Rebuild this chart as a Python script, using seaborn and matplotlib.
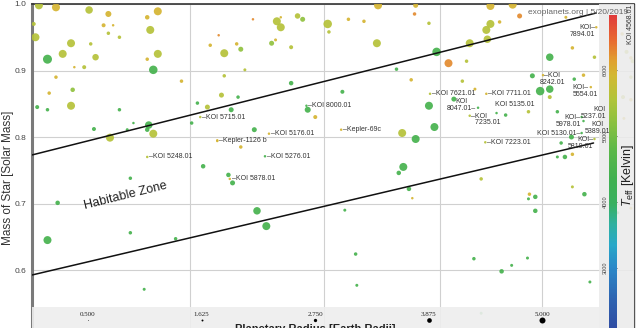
import numpy as np
import pandas as pd
import matplotlib
matplotlib.use("Agg")
import matplotlib.pyplot as plt
import seaborn as sns
from matplotlib.colors import LinearSegmentedColormap, Normalize
from matplotlib.patches import Rectangle
from matplotlib.ticker import NullLocator, FixedLocator
import matplotlib.cm as cm

# ------------------------------------------------------------------ data
# colour classes of the host star (effective temperature, K)
TEFF = {"O": 6250, "Y": 5950, "YG": 5600, "LG": 5250, "G": 4450}

# unlabeled planets: x (log axis quantity), stellar mass, planet radius, colour class
pl_x = [5.04, 5.14, 5.34, 5.46, 5.71, 5.78, 5.01, 5.43, 5.49, 5.02, 5.46, 5.53, 5.73, 5.23,
        5.35, 5.18, 5.38, 5.71, 5.78, 5.09, 5.25, 5.31, 5.75, 5.14, 5.94, 5.10, 5.24, 5.03,
        5.09, 5.23, 5.53, 6.05, 6.12, 5.37, 5.62, 5.58, 5.72, 5.71, 5.75, 5.47, 6.01, 6.19,
        6.09,
        6.45, 6.63, 6.66, 6.66, 6.79, 6.83, 7.03, 7.04, 7.20, 7.33, 7.45, 7.78, 7.77, 6.20,
        6.14, 6.33, 6.36, 6.24, 6.59, 6.62, 6.74, 7.44, 7.61, 7.74, 6.24, 6.39, 6.74, 7.15,
        6.22, 6.34, 6.29, 6.87, 6.93, 7.66, 7.78, 6.46, 6.36, 7.67,
        8.48, 8.70, 7.90, 8.57, 8.48, 8.44, 8.77, 9.25, 8.28, 8.45, 8.25, 8.08, 7.97, 9.08,
        9.32, 9.56, 8.21, 8.90, 9.08, 9.34, 9.44, 8.33, 8.98, 9.08, 8.13, 7.90, 8.63, 8.86,
        9.16, 7.95, 9.31, 9.20, 9.16, 9.24, 9.32,
        6.27, 6.30, 6.48, 6.55, 7.63, 7.72, 7.75, 7.17, 7.26, 7.27, 5.60, 5.15, 5.09, 5.60,
        5.90, 5.69, 8.39, 8.87, 8.93, 8.86, 8.93, 9.32, 9.45, 8.32, 8.59, 8.69, 8.85, 9.51,
        8.39,
        9.87, 9.92, 9.97, 9.99, 9.97, 9.88, 9.97, 9.89, 9.82, 9.97]
pl_mass = [0.998, 0.995, 0.991, 0.985, 0.980, 0.989, 0.970, 0.968, 0.968, 0.950, 0.956, 0.950,
           0.961, 0.941, 0.940, 0.925, 0.920, 0.917, 0.925, 0.917, 0.905, 0.905, 0.901, 0.890,
           0.884, 0.866, 0.871, 0.845, 0.841, 0.847, 0.841, 0.851, 0.845, 0.812, 0.821, 0.811,
           0.818, 0.811, 0.805, 0.799, 0.821, 0.795, 0.756,
           0.977, 0.974, 0.965, 0.980, 0.982, 0.977, 0.970, 0.958, 0.977, 0.974, 0.998, 0.998,
           0.985, 0.953, 0.938, 0.940, 0.932, 0.926, 0.941, 0.946, 0.935, 0.941, 0.902, 0.886,
           0.892, 0.901, 0.881, 0.868, 0.863, 0.860, 0.841, 0.841, 0.830, 0.806, 0.797, 0.811,
           0.785, 0.755,
           0.997, 0.999, 0.971, 0.973, 0.970, 0.961, 0.982, 0.980, 0.941, 0.947, 0.914, 0.911,
           0.928, 0.920, 0.934, 0.920, 0.884, 0.892, 0.872, 0.887, 0.893, 0.872, 0.869, 0.860,
           0.857, 0.847, 0.833, 0.838, 0.838, 0.815, 0.800, 0.791, 0.770, 0.770, 0.774,
           0.743, 0.731, 0.689, 0.666, 0.746, 0.722, 0.708, 0.690, 0.624, 0.577, 0.738, 0.701,
           0.645, 0.656, 0.647, 0.571, 0.737, 0.714, 0.710, 0.707, 0.689, 0.725, 0.714, 0.617,
           0.598, 0.607, 0.618, 0.582, 0.535,
           0.955, 0.928, 0.919, 0.914, 0.890, 0.860, 0.856, 0.828, 0.686, 0.693]
pl_radius = [4.0, 4.0, 3.75, 3.0, 2.25, 4.0, 2.0, 2.0, 1.25, 4.0, 1.75, 1.75, 4.0, 4.0,
             1.75, 4.0, 3.25, 1.75, 4.0, 4.5, 1.25, 2.0, 4.25, 1.75, 1.75, 1.75, 2.25, 2.0,
             1.75, 4.0, 1.75, 1.75, 2.5, 2.0, 1.25, 1.5, 3.75, 2.25, 4.0, 4.0, 1.75, 1.25,
             2.25,
             1.25, 4.0, 4.0, 1.25, 2.75, 2.5, 4.25, 1.75, 1.75, 1.75, 4.0, 2.5, 1.75, 1.25,
             1.75, 1.75, 2.5, 4.0, 2.5, 1.5, 2.0, 4.0, 1.75, 1.75, 1.75, 1.5, 2.25, 2.0,
             2.5, 1.75, 2.5, 3.0, 2.0, 4.0, 4.0, 2.5, 1.75, 4.0,
             4.0, 4.0, 1.75, 1.75, 4.0, 4.0, 2.5, 1.5, 4.0, 3.75, 1.75, 4.0, 4.25, 3.75,
             1.75, 1.75, 1.75, 2.5, 3.75, 1.75, 1.75, 1.5, 4.25, 2.0, 2.5, 4.0, 1.75, 1.75,
             1.75, 4.0, 2.5, 1.75, 1.5, 2.25, 1.75,
             2.25, 2.5, 3.75, 4.0, 2.25, 2.25, 1.25, 1.5, 1.75, 1.5, 1.75, 2.25, 4.0, 1.75,
             1.75, 1.5, 1.75, 1.75, 2.25, 1.5, 2.25, 1.5, 2.25, 1.75, 2.25, 1.5, 1.5, 1.5,
             1.5,
             1.75, 2.0, 1.75, 2.0, 1.75, 2.0, 1.75, 1.5, 1.5, 1.5]
pl_class = ["YG", "Y", "YG", "Y", "Y", "Y", "YG", "Y", "Y", "YG", "YG", "YG", "YG", "YG",
            "YG", "YG", "YG", "Y", "YG", "G", "Y", "YG", "G", "Y", "Y", "Y", "LG", "G",
            "G", "YG", "G", "G", "YG", "G", "G", "G", "G", "G", "YG", "YG", "G", "Y",
            "G",
            "O", "YG", "YG", "Y", "YG", "LG", "YG", "YG", "Y", "Y", "Y", "Y", "O", "O",
            "Y", "Y", "LG", "YG", "LG", "Y", "YG", "YG", "G", "Y", "YG", "YG", "G", "G",
            "YG", "G", "G", "G", "Y", "YG", "G", "G", "Y", "G",
            "Y", "Y", "YG", "Y", "YG", "YG", "O", "Y", "YG", "YG", "YG", "O", "G", "G",
            "Y", "YG", "YG", "G", "G", "G", "Y", "Y", "G", "YG", "G", "G", "G", "YG",
            "G", "G", "G", "G", "G", "G", "Y",
            "G", "G", "G", "G", "G", "G", "Y", "G", "G", "G", "G", "G", "G", "G",
            "G", "G", "YG", "Y", "G", "G", "G", "YG", "G", "G", "G", "G", "G", "G",
            "G",
            "Y", "YG", "Y", "YG", "YG", "YG", "Y", "Y", "G", "Y"]

# labelled planets
lab_names = ["KOI 5248.01", "KOI 5715.01", "KOI 8000.01", "Kepler-69c", "KOI 5176.01",
             "Kepler-1126 b", "KOI 5276.01", "KOI 5878.01", "KOI 7621.01", "KOI 7711.01",
             "KOI 8047.01", "KOI 5135.01", "KOI 7235.01", "KOI 7223.01", "KOI 8242.01",
             "KOI 5554.01", "KOI 5237.01", "KOI 5978.01", "KOI 5389.01", "KOI 5130.01",
             "KOI 5819.01", "KOI 7894.01"]
lab_x = [5.71, 6.07, 6.86, 7.14, 6.57, 6.19, 6.54, 6.28, 7.91, 8.44, 8.36, 8.54, 8.28, 8.43,
         9.01, 9.52, 9.62, 9.42, 9.44, 9.42, 9.56, 9.58]
lab_mass = [0.770, 0.830, 0.847, 0.811, 0.805, 0.794, 0.771, 0.737, 0.865, 0.865, 0.844,
            0.836, 0.832, 0.792, 0.893, 0.875, 0.824, 0.830, 0.824, 0.806, 0.797, 0.965]
lab_class = ["YG", "YG", "G", "Y", "Y", "Y", "G", "Y", "YG", "Y", "G", "G", "YG", "YG",
             "Y", "Y", "Y", "G", "G", "G", "YG", "Y"]
lab_radius = [1.25] * len(lab_names)

# habitable zone boundaries (x, mass at the two ends)
hz_outer_x = [5.0, 9.58]
hz_outer_m = [0.773, 0.9865]
hz_inner_x = [5.0, 9.55]
hz_inner_m = [0.5925, 0.791]

# size legend (planet radius, Earth radii)
legend_radii = [0.5, 1.625, 2.75, 3.875, 5.0]
legend_labels = ["0.500", "1.625", "2.750", "3.875", "5.000"]

mass_ticks = [0.6, 0.7, 0.8, 0.9, 1.0]
x_grid = [6, 7, 8, 9]
teff_ticks = [2000, 3000, 4000, 5000, 6000]

# ------------------------------------------------------------------ style
sns.set_style("white")
plt.rcParams["font.family"] = ["Liberation Sans", "DejaVu Sans"]
plt.rcParams["mathtext.fontset"] = "custom"
plt.rcParams["mathtext.rm"] = "Liberation Sans"
plt.rcParams["mathtext.it"] = "Liberation Sans:italic"

TMIN, TMAX = 2000, 6833
stops = [(2000, "#3048a0"), (2500, "#2e62b0"), (3000, "#2a88c8"), (3350, "#28a8c8"),
         (3660, "#2fb0a0"), (3970, "#38b060"), (4350, "#40b050"), (4800, "#5cb848"),
         (5180, "#88c040"), (5550, "#b0c43a"), (5920, "#d2b832"), (6150, "#e0a030"),
         (6450, "#e86a30"), (6833, "#e03a3a")]
cmap = LinearSegmentedColormap.from_list(
    "teff", [((t - TMIN) / (TMAX - TMIN), c) for t, c in stops])
norm = Normalize(TMIN, TMAX)

df = pd.DataFrame({
    "x": pl_x + lab_x,
    "mass": pl_mass + lab_mass,
    "radius": pl_radius + lab_radius,
    "teff": [TEFF[c] for c in pl_class + lab_class],
}).sort_values("radius", ascending=False)

W, H = 640, 328
fx = lambda px: px / W
fy = lambda py: 1 - py / H

fig = plt.figure(figsize=(6.4, 3.28), dpi=100)
fig.patch.set_facecolor("white")
ax = fig.add_axes([fx(32), 0, fx(633.5) - fx(32), fy(4)])
ax.set_xscale("log")
ax.set_xlim(5, 10)
ax.set_ylim(0.5128, 1.0)

sizes = {r: (1.44 * r) ** 2 for r in df["radius"].unique()}
sns.scatterplot(data=df, x="x", y="mass", hue="teff", palette=cmap, hue_norm=norm,
                size="radius", sizes=sizes, linewidth=0, alpha=0.92, legend=False,
                ax=ax, zorder=3, clip_on=True)

# habitable zone
ax.plot(hz_outer_x, hz_outer_m, color="#111111", lw=1.1, zorder=4)
ax.plot(hz_inner_x, hz_inner_m, color="#111111", lw=1.1, zorder=4)
ax.text(5.57, 0.711, "Habitable Zone", rotation=14, fontsize=9, ha="center",
        va="center", color="#222222", zorder=4)

# labels
lab_layout = [
    ("–KOI 5248.01", (2, 0), "left", "center", "left"),
    ("–KOI 5715.01", (2, 0), "left", "center", "left"),
    ("–KOI 8000.01", (2, 0), "left", "center", "left"),
    ("–Kepler-69c", (2, 0), "left", "center", "left"),
    ("–KOI 5176.01", (2, 0), "left", "center", "left"),
    ("–Kepler-1126 b", (2, 0), "left", "center", "left"),
    ("–KOI 5276.01", (2, 0), "left", "center", "left"),
    ("–KOI 5878.01", (2, 0), "left", "center", "left"),
    ("–KOI 7621.01", (2, 0), "left", "center", "left"),
    ("–KOI 7711.01", (2, 0), "left", "center", "left"),
    ("KOI\n8047.01–", (-2, 3), "right", "center", "center"),
    ("KOI 5135.01", (-2, 9), "left", "center", "left"),
    ("–KOI\n  7235.01", (1, 3), "left", "top", "left"),
    ("–KOI 7223.01", (2, 0), "left", "center", "left"),
    ("–KOI\n8242.01", (9, 3), "center", "top", "center"),
    ("KOI–\n5554.01", (-18, 3), "left", "top", "left"),
    ("KOI\n5237.01", (6, 15), "right", "top", "right"),
    ("KOI–\n5978.01", (-1, 3), "right", "top", "right"),
    ("KOI\n5389.01", (14, 0), "center", "top", "center"),
    ("KOI 5130.01–", (-1, 0), "right", "center", "right"),
    ("KOI–\n5819.01", (-1, 3), "right", "top", "right"),
    ("KOI–\n7894.01", (-1, 3), "right", "top", "right"),
]
for (txt, off, ha, va, ma), x, m in zip(lab_layout, lab_x, lab_mass):
    ax.annotate(txt, (x, m), xytext=off, textcoords="offset pixels", ha=ha, va=va,
                multialignment=ma, fontsize=5, color="#333333", zorder=8,
                linespacing=0.95, annotation_clip=False)

# grid / ticks
ax.xaxis.set_minor_locator(NullLocator())
ax.xaxis.set_major_locator(FixedLocator(x_grid))
ax.set_xticklabels([])
ax.tick_params(axis="x", length=0)
ax.set_yticks(mass_ticks)
ax.set_yticklabels([f"{v:.1f}" for v in mass_ticks])
ax.tick_params(axis="y", length=2, width=0.6, color="#888888", labelsize=6,
               labelcolor="#444444", pad=2)
ax.grid(True, color="#d0d0d0", lw=0.8, zorder=0)
ax.set_axisbelow(True)
ax.set_xlabel("")
ax.set_ylabel("")
ax.spines["bottom"].set_visible(False)
ax.spines["left"].set_color("#7a7a7a")
ax.spines["left"].set_linewidth(2.2)
ax.spines["top"].set_color("#333333")
ax.spines["top"].set_linewidth(1.2)
ax.spines["right"].set_color("#555555")
ax.spines["right"].set_linewidth(1.0)

# grey overlay at right and size-legend band at bottom
ax.axvspan(9.61, 10, color="#ebebeb", alpha=0.88, zorder=6, lw=0)
band_w = (599 - 32) / 601.5
ax.add_patch(Rectangle((0, 0), band_w, 21 / 324, transform=ax.transAxes,
                       color="#eeeeee", alpha=0.9, zorder=5, lw=0))
for i, (r, lbl) in enumerate(zip(legend_radii, legend_labels)):
    xa = (88 - 32) / 601.5 + i * 113.5 / 601.5
    ax.scatter([xa], [8 / 324], s=(0.72 * 1.2 * r) ** 2, color="black",
               transform=ax.transAxes, zorder=7, clip_on=False, lw=0)
    ax.text(xa, 14 / 324, lbl, transform=ax.transAxes, fontsize=5,
            family="Liberation Serif", ha="center", va="center", color="#222222",
            zorder=7)

# colour bar
cax = fig.add_axes([fx(609), fy(334), fx(8), (334 - 15) / H])
cb = fig.colorbar(cm.ScalarMappable(norm=norm, cmap=cmap), cax=cax)
cb.outline.set_visible(False)
cb.set_ticks(teff_ticks)
cax.tick_params(axis="y", direction="in", length=2, width=0.6, color="#333333",
                left=True, right=True, labelleft=True, labelright=False,
                labelsize=4, labelcolor="#444444", pad=1)
for t in cax.get_yticklabels():
    t.set_rotation(90)
    t.set_va("center")

# texts
fig.text(fx(628), fy(175), r"$T_{\rm eff}$ [Kelvin]", rotation=90, fontsize=9,
         ha="center", va="center", color="#222222")
fig.text(fx(528), fy(12), "exoplanets.org | 5/20/2019", fontsize=6, color="#666666",
         ha="left", va="center")
fig.text(fx(631), fy(24), "KOI 4568.01", rotation=90, fontsize=5, color="#333333",
         ha="center", va="center")
fig.text(fx(8), fy(178), "Mass of Star [Solar Mass]", rotation=90, fontsize=8.5,
         ha="center", va="center", color="#333333")
fig.text(fx(315), fy(324.5), "Planetary Radius [Earth Radii]", fontsize=8,
         fontweight="bold", ha="center", va="top", color="#222222")

fig.savefig("out.png", dpi=100)
